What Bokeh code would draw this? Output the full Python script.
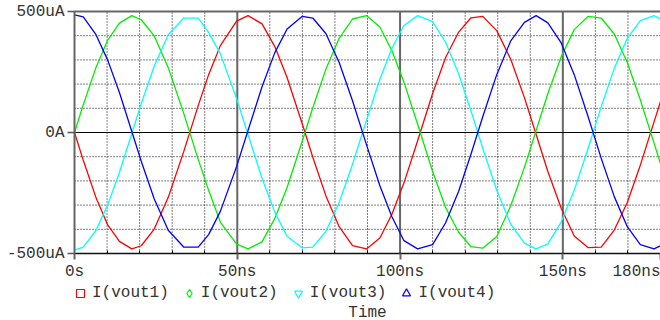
from bokeh.plotting import figure
from bokeh.models import (FixedTicker, LinearAxis, Legend, LegendItem,
                          Label, Range1d)
from bokeh.embed import file_html
from bokeh.resources import INLINE

# Transient simulation time points (ns)
time_ns = [0, 2.7, 6.5, 10.2, 13.8, 17.6, 20.5, 24.5, 28.8, 33.6,
           38.0, 41.2, 44.8, 49.8, 53.3, 57.6, 61.5, 65.3, 70.0, 73.2,
           77.2, 81.3, 85.4, 89.7, 93.8, 97.5, 101.2, 105.4, 110.0, 114.0,
           118.0, 121.8, 125.4, 129.7, 134.0, 138.2, 141.8, 145.4, 149.5, 153.5,
           157.8, 161.8, 165.8, 169.8, 173.8, 178.0, 180.0]

# Output currents (uA)
i_vout1 = [0, -115, -265, -382, -450, -481, -468, -399, -268, -77,
           111, 239, 359, 460, 483, 449, 356, 227, 34, -102,
           -261, -389, -467, -481, -436, -338, -208, -34, 161, 310,
           415, 474, 480, 421, 303, 144, -8, -161, -313, -428,
           -476, -474, -403, -289, -135, 43, 128]
i_vout2 = [0, 115, 265, 382, 452, 483, 466, 399, 268, 77,
           -111, -239, -370, -461, -481, -452, -356, -227, -34, 102,
           261, 389, 469, 483, 436, 338, 208, 34, -161, -310,
           -412, -472, -478, -430, -303, -144, 8, 161, 313, 425,
           480, 473, 407, 289, 135, -43, -128]
i_vout3 = [-486, -474, -407, -299, -165, -4, 119, 275, 404, 473,
           473, 414, 326, 140, -8, -189, -329, -429, -477, -474,
           -409, -289, -131, 51, 220, 348, 442, 483, 458, 373,
           243, 89, -65, -239, -379, -457, -481, -460, -370, -239,
           -64, 107, 265, 389, 462, 483, 469]
i_vout4 = [486, 478, 407, 299, 165, 4, -119, -275, -404, -474,
           -474, -422, -326, -140, 8, 189, 329, 428, 480, 473,
           409, 289, 131, -51, -220, -348, -447, -481, -463, -373,
           -243, -89, 65, 239, 379, 455, 483, 453, 370, 239,
           64, -107, -265, -389, -463, -481, -468]

series_names = ["I(vout1)", "I(vout2)", "I(vout3)", "I(vout4)"]
series_colors = ["#ff0000", "#00ee00", "#00ffff", "#0000ff"]
series_markers = ["square", "diamond", "inverted_triangle", "triangle"]

t_start, t_stop = 0, 180
x_ticks = [0, 50, 100, 150]
x_tick_labels = ["0s", "50ns", "100ns", "150ns"]
x_stop_label = "180ns"
x_minor = [10, 20, 30, 40, 60, 70, 80, 90, 110, 120, 130, 140, 160, 170]
y_lo, y_hi = -500, 500
y_ticks = [-500, 0, 500]
y_tick_labels = ["-500uA", "0A", "500uA"]
y_minor = [-400, -300, -200, -100, 100, 200, 300, 400]
x_title = "Time"

FONT = "Liberation Mono"
TEXT_COLOR = "#333333"

# page geometry (px): the plot area sits inside the canvas, the axes are
# pinned to its edges and the footer texts live below it
W, H = 660, 320
AREA_L, AREA_R, AREA_T, AREA_B = 74, 660, 11, 253
px_per_ns = (AREA_R - AREA_L) / (t_stop - t_start)
px_per_ua = (AREA_B - AREA_T) / (y_hi - y_lo)


def y_below(px):
    """data y of a point `px` pixels below the bottom of the plot area"""
    return y_lo - px / px_per_ua


p = figure(width=W, height=H, output_backend="svg", toolbar_location=None,
           x_range=Range1d(t_start - AREA_L / px_per_ns,
                           t_stop + (W - AREA_R) / px_per_ns),
           y_range=Range1d(y_below(H - AREA_B), y_hi + AREA_T / px_per_ua),
           x_axis_type=None, y_axis_type=None,
           min_border_left=0, min_border_right=0,
           min_border_top=0, min_border_bottom=0)
p.outline_line_color = None
p.background_fill_color = "white"
p.border_fill_color = "white"
p.xgrid.visible = False
p.ygrid.visible = False

# grid lines, limited to the plot area
nx, ny = len(x_minor), len(y_minor)
p.segment(x0=x_minor, y0=[y_lo] * nx, x1=x_minor, y1=[y_hi] * nx,
          line_color="black", line_dash="1 2", line_width=1)
p.segment(x0=[t_start] * ny, y0=y_minor, x1=[t_stop] * ny, y1=y_minor,
          line_color="black", line_dash="1 2", line_width=1)
major_x = x_ticks[1:]
p.segment(x0=major_x, y0=[y_lo] * len(major_x), x1=major_x, y1=[y_hi] * len(major_x),
          line_color="#666666", line_width=2)
p.segment(x0=[t_start], y0=[0], x1=[t_stop], y1=[0],
          line_color="black", line_width=1)

# axes pinned to the edges of the plot area
xaxis = LinearAxis(fixed_location=y_lo, bounds=(t_start, t_stop),
                   ticker=FixedTicker(ticks=x_ticks + [t_stop], minor_ticks=x_minor),
                   major_label_overrides={**dict(zip(x_ticks, x_tick_labels)), t_stop: ""},
                   axis_line_color="#111111", axis_line_width=1.5,
                   major_tick_out=6, major_tick_in=0,
                   major_tick_line_color="#666666", major_tick_line_width=2,
                   minor_tick_out=0, minor_tick_in=3,
                   minor_tick_line_color="black",
                   major_label_standoff=3,
                   major_label_text_font=FONT, major_label_text_font_size="16px",
                   major_label_text_color=TEXT_COLOR)
p.add_layout(xaxis, "below")

yaxis = LinearAxis(fixed_location=t_start, bounds=(y_lo, y_hi),
                   ticker=FixedTicker(ticks=y_ticks, minor_ticks=[]),
                   major_label_overrides=dict(zip(y_ticks, y_tick_labels)),
                   axis_line_color="#666666", axis_line_width=2,
                   major_tick_out=7, major_tick_in=0,
                   major_tick_line_color="#555555", major_tick_line_width=1.5,
                   minor_tick_out=0, minor_tick_in=0,
                   major_label_standoff=3,
                   major_label_text_font=FONT, major_label_text_font_size="16px",
                   major_label_text_color=TEXT_COLOR)
p.add_layout(yaxis, "left")

top_axis = LinearAxis(fixed_location=y_hi, bounds=(t_start, t_stop),
                      ticker=FixedTicker(ticks=[], minor_ticks=[]),
                      axis_line_color="#666666", axis_line_width=2,
                      major_tick_out=0, major_tick_in=0,
                      minor_tick_out=0, minor_tick_in=0)
p.add_layout(top_axis, "above")

# waveforms
all_series = [i_vout1, i_vout2, i_vout3, i_vout4]
legend_items = []
for name, ys, color, marker in zip(series_names, all_series,
                                   series_colors, series_markers):
    p.line(time_ns, ys, line_color=color, line_width=1.3)
    key = p.scatter(time_ns, ys, marker=marker, size=0, fill_color=None,
                    line_color=color, line_width=1.2)
    legend_items.append(LegendItem(label=name, renderers=[key]))

# footer: end-of-sweep time label, legend, axis title
p.add_layout(Label(x=t_stop, y=y_below(18), text=x_stop_label,
                   text_align="right", text_baseline="middle",
                   text_font=FONT, text_font_size="16px", text_color=TEXT_COLOR))
p.add_layout(Label(x=(t_start + t_stop) / 2, y=y_below(59), text=x_title,
                   text_align="center", text_baseline="middle",
                   text_font=FONT, text_font_size="16px", text_color=TEXT_COLOR))

legend = Legend(items=legend_items, orientation="horizontal",
                location=(AREA_L - 4, H - 303), glyph_width=20, glyph_height=20,
                label_standoff=2, spacing=10, padding=0, margin=0,
                label_height=20, border_line_color=None,
                background_fill_alpha=0,
                label_text_font=FONT, label_text_font_size="16px",
                label_text_color=TEXT_COLOR)
p.add_layout(legend, "center")

open("out.html", "w").write(file_html(p, INLINE))
